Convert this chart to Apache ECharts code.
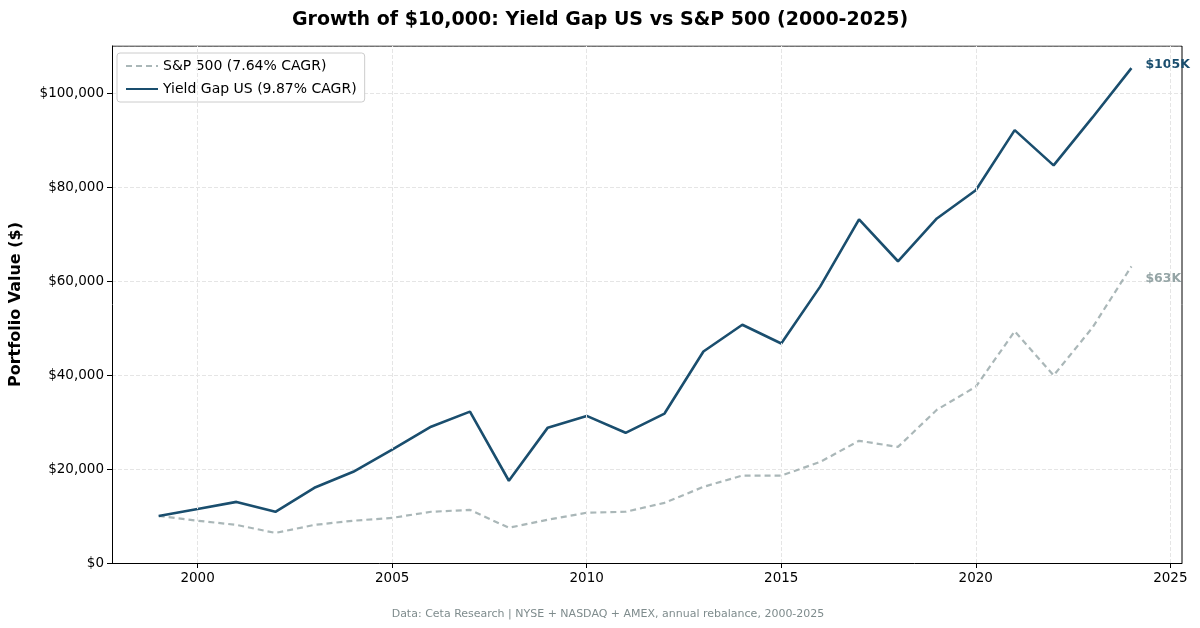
<!DOCTYPE html><html><head><meta charset="utf-8"><script src="https://cdn.jsdelivr.net/npm/echarts@6/dist/echarts.min.js"></script></head><body style="margin:0"><div id="c" style="width:1200px;height:628px"></div><script>
const years=[1999,2000,2001,2002,2003,2004,2005,2006,2007,2008,2009,2010,2011,2012,2013,2014,2015,2016,2017,2018,2019,2020,2021,2022,2023,2024];
const yieldGap=[10000,11500,13000,10900,16000,19400,24100,29000,32200,17500,28800,31300,27700,31800,45000,50700,46700,58800,73100,64200,73300,79300,92100,84600,94800,105300];
const sp500=[10000,9000,8100,6400,8100,9000,9600,10900,11300,7500,9200,10700,10900,12800,16200,18600,18600,21500,26000,24700,32600,37500,49300,39900,50100,63100];
const xTicks=[2000,2005,2010,2015,2020,2025];
const F='DejaVu Sans';
const c=echarts.init(document.getElementById('c'));
c.setOption({animation:false,textStyle:{fontFamily:F},
title:[{text:'Growth of $10,000: Yield Gap US vs S&P 500 (2000-2025)',left:'center',top:6,textStyle:{fontSize:19,fontWeight:'bold',color:'#000',fontFamily:F}},
{text:'Data: Ceta Research | NYSE + NASDAQ + AMEX, annual rebalance, 2000-2025',left:603,textAlign:'center',top:604,textStyle:{fontSize:11,fontWeight:'normal',color:'#7f8c8d',fontFamily:F}}],
grid:{left:110,right:18,top:46,bottom:65},
legend:{left:117,top:53,orient:'vertical',itemWidth:32,itemHeight:10,itemGap:9,backgroundColor:'#fff',borderColor:'#ccc',borderWidth:1,borderRadius:3,padding:[6,8],itemStyle:{opacity:0},textStyle:{fontSize:14,color:'#000',fontFamily:F},data:['S&P 500 (7.64% CAGR)','Yield Gap US (9.87% CAGR)']},
xAxis:{type:'value',min:1997.8,max:2025.3,axisLine:{onZero:false,lineStyle:{color:'#000'}},axisTick:{show:true,customValues:xTicks,lineStyle:{color:'#000'}},axisLabel:{customValues:xTicks,color:'#000',fontSize:13.5,formatter:v=>String(Math.round(v))},splitLine:{show:false}},
yAxis:{type:'value',min:0,max:110000,interval:20000,name:'Portfolio Value ($)',nameLocation:'middle',nameGap:88,nameTextStyle:{fontSize:16,fontWeight:'bold',color:'#000',fontFamily:F},axisLine:{show:true,lineStyle:{color:'#000'}},axisTick:{show:true,lineStyle:{color:'#000'}},axisLabel:{color:'#000',fontSize:13.5,formatter:v=>'$'+v.toLocaleString('en-US'),showMaxLabel:false},splitLine:{lineStyle:{type:'dashed',color:'#e5e5e5'}}},
series:[
{name:'S&P 500 (7.64% CAGR)',type:'line',z:3,data:years.map((y,i)=>[y,sp500[i]]),symbol:'none',lineStyle:{color:'#95a5a6',width:2.2,type:[6,4],opacity:0.8},itemStyle:{color:'#95a5a6'},
 endLabel:{show:true,formatter:'$63K',color:'#95a5a6',fontWeight:'bold',fontSize:12.5,offset:[6,12]}},
{name:'Yield Gap US (9.87% CAGR)',type:'line',z:4,data:years.map((y,i)=>[y,yieldGap[i]]),symbol:'none',lineStyle:{color:'#1a4e6e',width:2.6},itemStyle:{color:'#1a4e6e'},
 endLabel:{show:true,formatter:'$105K',color:'#1a4e6e',fontWeight:'bold',fontSize:12.5,offset:[6,-3]}},
{type:'line',z:1,data:[[1997.8,110000],[2025.3,110000]],symbol:'none',lineStyle:{color:'#000',width:1},silent:true,
 markLine:{silent:true,symbol:'none',label:{show:false},lineStyle:{type:'dashed',color:'#e5e5e5',width:1},data:xTicks.map(x=>({xAxis:x}))}},
{type:'line',z:1,data:[[2025.3,0],[2025.3,110000]],symbol:'none',lineStyle:{color:'#000',width:1},silent:true}
]});
</script></body></html>
